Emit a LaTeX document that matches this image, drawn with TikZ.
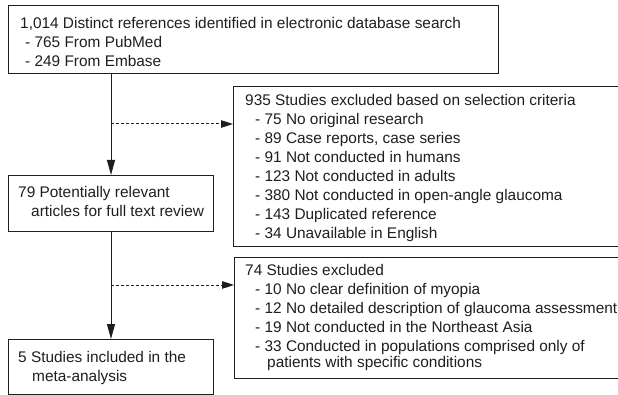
\documentclass[tikz,border=0pt]{standalone}
\usepackage{fontspec}
\setmainfont{Liberation Sans}
\usetikzlibrary{arrows.meta,calc}
\definecolor{ink}{HTML}{1E1E1E}
\tikzset{
  box/.style={draw=ink, line width=1pt, rectangle, inner sep=0pt, anchor=north west},
  txt/.style={anchor=north west, inner sep=0pt, align=left, text=ink,
    font=\fontsize{15.4pt}{19pt}\selectfont},
  arr/.style={draw=ink, line width=1pt, -{Triangle[length=15pt,width=8pt]}},
  darr/.style={draw=ink, line width=1pt, dash pattern=on 3pt off 2pt, -{Triangle[length=12pt,width=7.5pt]}}
}
\begin{document}
\begin{tikzpicture}[x=1pt,y=-1pt]
\useasboundingbox (0,0) rectangle (618,395);
\clip (0,0) rectangle (618,395);
% boxes
\node[box, minimum width=490pt, minimum height=68pt] (b1) at (8,5) {};
\node[box, minimum width=205pt, minimum height=56pt] (b2) at (8,175) {};
\node[box, minimum width=420pt, minimum height=160pt] (b3) at (233,86) {};
\node[box, minimum width=420pt, minimum height=121pt] (b4) at (234,257) {};
\node[box, minimum width=205pt, minimum height=55pt] (b5) at (8,339) {};
% texts
\node[txt] (t1) at (20,17.5) {1,014 Distinct references identified in electronic database search\\
\hspace*{5pt}- 765 From PubMed\\
\hspace*{5pt}- 249 From Embase};
\node[txt] (t2) at (18,186.5) {79 Potentially relevant\\
\hspace*{13pt}articles for full text review};
\node[txt] (t3) at (245,94.5) {935 Studies excluded based on selection criteria\\
\hspace*{10pt}- 75 No original research\\
\hspace*{10pt}- 89 Case reports, case series\\
\hspace*{10pt}- 91 Not conducted in humans\\
\hspace*{10pt}- 123 Not conducted in adults\\
\hspace*{10pt}- 380 Not conducted in open-angle glaucoma\\
\hspace*{10pt}- 143 Duplicated reference\\
\hspace*{10pt}- 34 Unavailable in English};
\node[txt] (t4) at (245,264.5) {74 Studies excluded\\
\hspace*{10pt}- 10 No clear definition of myopia\\
\hspace*{10pt}- 12 No detailed description of glaucoma assessment\\
\hspace*{10pt}- 19 Not conducted in the Northeast Asia\\
\hspace*{10pt}- 33 Conducted in populations comprised only of\\[-3pt]
\hspace*{22pt}patients with specific conditions};
\node[txt] (t5) at (18,351.5) {5 Studies included in the\\
\hspace*{14pt}meta-analysis};
% connectors
\draw[arr] (b1.south -| b2.north) -- (b2.north);
\draw[arr] (b2.south) -- (b5.north);
\coordinate (d1) at ($(b2.north)+(0,-51)$);
\coordinate (d2) at ($(b5.north)+(0,-54)$);
\draw[darr] (d1) -- (d1 -| b3.west);
\draw[darr] (d2) -- (d2 -| b4.west);
\end{tikzpicture}
\end{document}
